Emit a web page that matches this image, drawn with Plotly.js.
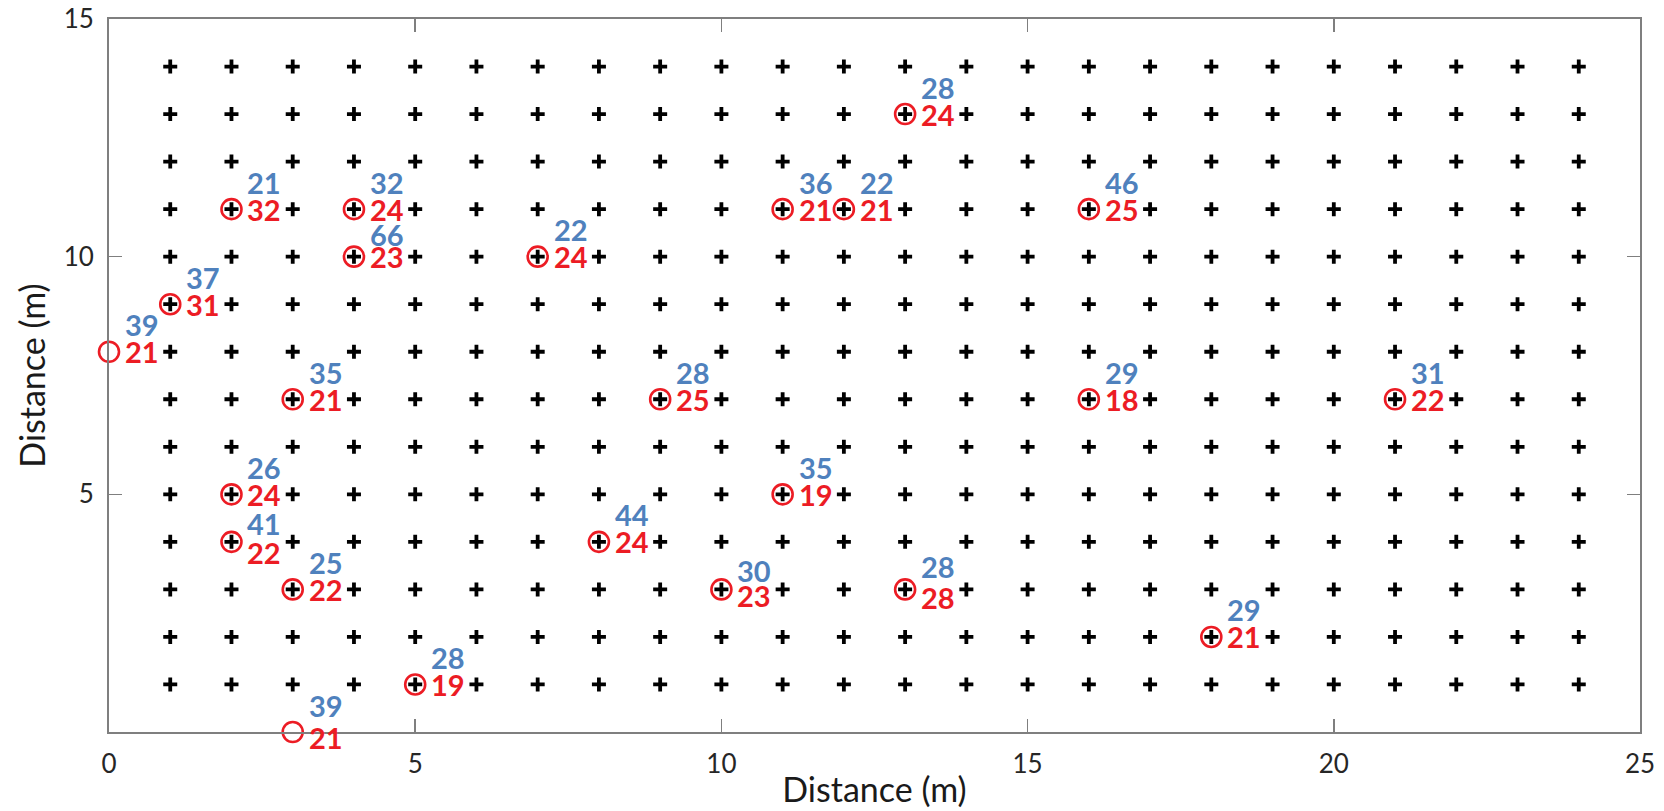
<!DOCTYPE html>
<html>
<head>
<meta charset="utf-8">
<script src="https://cdn.plot.ly/plotly-3.0.1.min.js"></script>
<style>
html,body{margin:0;padding:0;background:#fff;}
#chart{width:1664px;height:811px;}
</style>
</head>
<body>
<div id="chart"></div>
<script>
// ---- data ----
var gridCols = [1,2,3,4,5,6,7,8,9,10,11,12,13,14,15,16,17,18,19,20,21,22,23,24];
var gridRows = [1,2,3,4,5,6,7,8,9,10,11,12,13,14];

var siteX    = [0, 1, 2, 4, 4, 7, 11, 12, 13, 16, 3, 9, 16, 21, 2, 11, 2, 8, 3, 10, 13, 18, 5, 3];
var siteY    = [8, 9, 11, 11, 10, 10, 11, 11, 13, 11, 7, 7, 7, 7, 5, 5, 4, 4, 3, 3, 3, 2, 1, 0];
var blueVals = [39, 37, 21, 32, 66, 22, 36, 22, 28, 46, 35, 28, 29, 31, 26, 35, 41, 44, 25, 30, 28, 29, 28, 39];
var redVals  = [21, 31, 32, 24, 23, 24, 21, 21, 24, 25, 21, 25, 18, 22, 24, 19, 22, 24, 22, 23, 28, 21, 19, 21];

var xTicks = [0, 5, 10, 15, 20, 25];
var yTicks = [5, 10, 15];

// ---- label placement tweaks (pixels, layout only) ----
var redDX = 33, redDY = 0, blueDX = 33, blueDY = 27;
var nudges = { // index -> [red dy, blue dy] in px (positive = up)
  4: [0, -5],
  16: [-11, -9],
  19: [-6, -8],
  20: [-8, -4],
  23: [-5, 0]
};

// ---- build grid ----
var gx = [], gy = [];
gridRows.forEach(function(r){ gridCols.forEach(function(c){ gx.push(c); gy.push(r); }); });

var RED = '#ec1c24', BLUE = '#4f81bd';
var FONT = 'Lato, "Open Sans", sans-serif';

var traces = [
  {
    x: gx, y: gy, type: 'scatter', mode: 'markers', hoverinfo: 'x+y',
    marker: {symbol: 'cross-thin-open', size: 10, color: '#000', line: {color: '#000', width: 3.8}},
    cliponaxis: false, showlegend: false
  },
  {
    x: siteX, y: siteY, type: 'scatter', mode: 'markers',
    marker: {symbol: 'circle-open', size: 20, color: RED, line: {color: RED, width: 2.6}},
    cliponaxis: false, showlegend: false
  }
];

var annotations = [];
siteX.forEach(function(x, i){
  var n = nudges[i] || [0, 0];
  annotations.push({
    x: x, y: siteY[i], xref: 'x', yref: 'y', text: String(redVals[i]), showarrow: false,
    xanchor: 'center', yanchor: 'middle', xshift: redDX, yshift: redDY + n[0],
    font: {family: FONT, size: 29, color: RED, weight: 'bold'}
  });
  annotations.push({
    x: x, y: siteY[i], xref: 'x', yref: 'y', text: String(blueVals[i]), showarrow: false,
    xanchor: 'center', yanchor: 'middle', xshift: blueDX, yshift: blueDY + n[1],
    font: {family: FONT, size: 29, color: BLUE, weight: 'bold'}
  });
});

var axisCommon = {
  showgrid: false, zeroline: false, showline: true, linecolor: '#7f7f7f', linewidth: 2,
  mirror: 'ticks', ticks: 'inside', ticklen: 13, tickwidth: 1.5, tickcolor: '#7f7f7f',
  tickfont: {family: FONT, size: 26, color: '#262626'}, ticklabelstandoff: 8
};

var layout = {
  width: 1664, height: 811,
  margin: {l: 109, r: 24, t: 19, b: 79},
  paper_bgcolor: '#fff', plot_bgcolor: '#fff',
  font: {family: FONT},
  xaxis: Object.assign({}, axisCommon, {
    range: [0, 25], tickmode: 'array', tickvals: xTicks,
    title: {text: 'Distance (m)', font: {family: FONT, size: 34, color: '#1a1a1a'}, standoff: 0}
  }),
  yaxis: Object.assign({}, axisCommon, {
    range: [0, 15], tickmode: 'array', tickvals: yTicks,
    title: {text: 'Distance (m)', font: {family: FONT, size: 34, color: '#1a1a1a'}, standoff: 8}
  }),
  annotations: annotations,
  showlegend: false
};

Plotly.newPlot('chart', traces, layout, {displayModeBar: false, staticPlot: true});
</script>
</body>
</html>
